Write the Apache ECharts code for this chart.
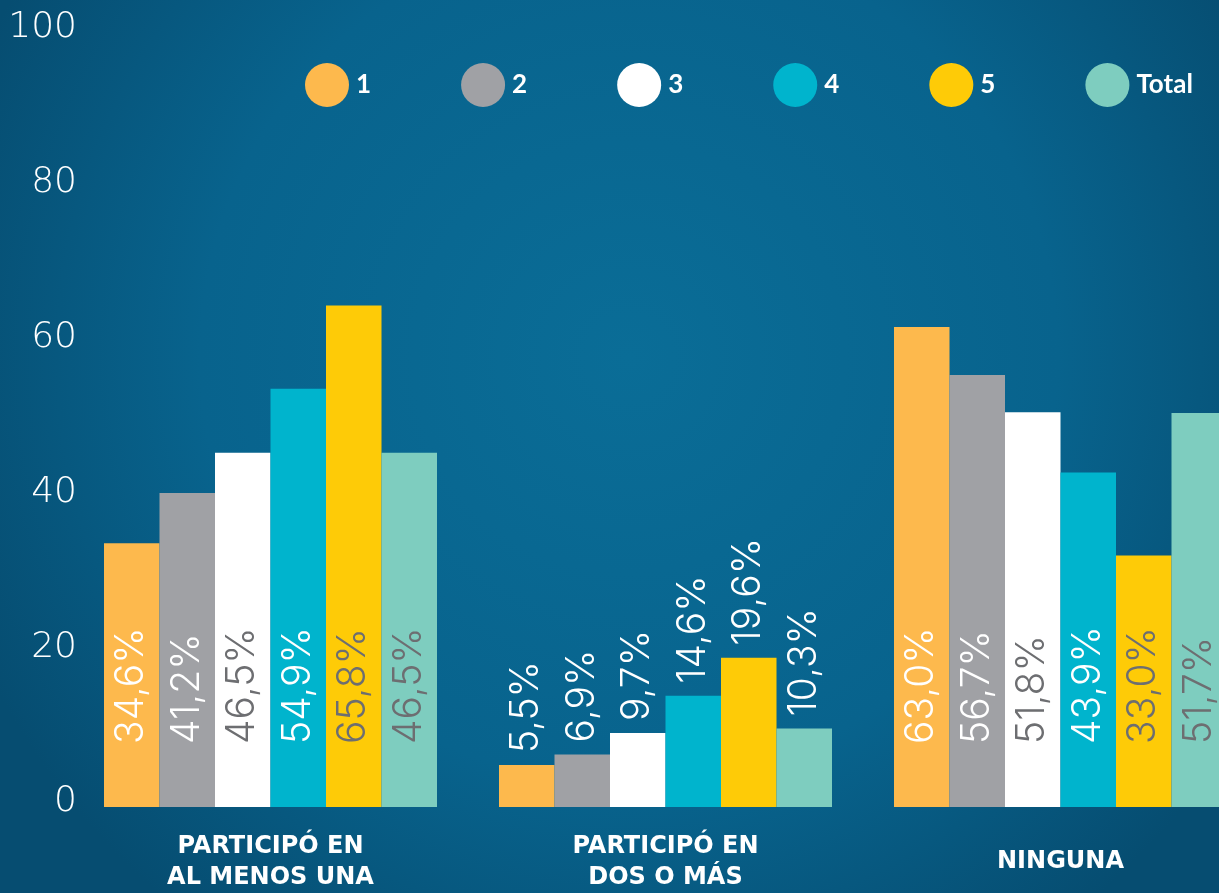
<!DOCTYPE html>
<html>
<head>
<meta charset="utf-8">
<style>
  html, body { margin: 0; padding: 0; overflow: hidden; width: 1219px; height: 893px; background: #075a82; }
  #chart { width: 1258px; height: 893px; }
</style>
<script src="https://cdn.jsdelivr.net/npm/echarts@6/dist/echarts.min.js"></script>
</head>
<body>
<div id="chart"></div>
<script>
const categories = ['PARTICIPÓ EN\nAL MENOS UNA', 'PARTICIPÓ EN\nDOS O MÁS', 'NINGUNA'];
const seriesNames = ['1', '2', '3', '4', '5', 'Total'];
const values1 = [34.6, 5.5, 63.0];
const values2 = [41.2, 6.9, 56.7];
const values3 = [46.5, 9.7, 51.8];
const values4 = [54.9, 14.6, 43.9];
const values5 = [65.8, 19.6, 33.0];
const valuesTotal = [46.5, 10.3, 51.7];
const yTicks = [0, 20, 40, 60, 80, 100];

const allValues = [values1, values2, values3, values4, values5, valuesTotal];
const barColors = ['#FDB94D', '#A0A1A5', '#FFFFFF', '#00B4CD', '#FECB07', '#7ECDBF'];
const labelColors = ['#FFFFFF', '#FFFFFF', '#6D6E71', '#FFFFFF', '#6D6E71', '#6D6E71'];
const outsideCategory = 1;

const fmt = p => p.value.toFixed(1).replace('.', ',') + '%';
const thinFont = 'Inter';

const chart = echarts.init(document.getElementById('chart'), null, { renderer: 'canvas' });

const series = seriesNames.map((name, si) => ({
  name: name,
  type: 'bar',
  xAxisIndex: 0,
  yAxisIndex: 0,
  barWidth: 55.5,
  barGap: '0%',
  itemStyle: { color: barColors[si] },
  label: {
    show: true,
    position: 'insideBottom',
    distance: 63,
    rotate: 90,
    align: 'left',
    verticalAlign: 'middle',
    color: labelColors[si],
    fontFamily: thinFont,
    fontWeight: 300,
    fontSize: 39,
    formatter: fmt
  },
  data: allValues[si].map((v, ci) => ci === outsideCategory
    ? { value: v, label: { position: 'top', distance: 12, color: '#FFFFFF' } }
    : v)
}));

chart.setOption({
  animation: false,
  backgroundColor: {
    type: 'radial', x: 0.5, y: 0.4, r: 0.8,
    colorStops: [
      { offset: 0, color: '#0A6D97' },
      { offset: 0.6, color: '#08638D' },
      { offset: 1, color: '#064D71' }
    ]
  },
  legend: {
    data: seriesNames,
    left: 300,
    top: 58,
    icon: 'circle',
    itemWidth: 44,
    itemHeight: 44,
    itemGap: 90,
    textStyle: { color: '#FFFFFF', fontSize: 26, fontWeight: 'bold', fontFamily: 'Lato', padding: [0, 0, 0, 2] }
  },
  grid: [
    { left: 73, right: 0, top: 45, bottom: 86 },
    { left: 80, right: 1100, top: 28, bottom: 91 }
  ],
  xAxis: [
    {
      type: 'category',
      gridIndex: 0,
      data: categories,
      axisLine: { show: false },
      axisTick: { show: false },
      axisLabel: {
        color: '#FFFFFF',
        fontFamily: 'DejaVu Sans',
        fontWeight: 'bold',
        fontSize: 24,
        lineHeight: 31,
        verticalAlign: 'middle',
        margin: 55
      }
    },
    { type: 'category', gridIndex: 1, data: [''], show: false }
  ],
  yAxis: [
    {
      type: 'value', gridIndex: 0, min: 0, max: 100, interval: 20,
      show: false, splitLine: { show: false }
    },
    {
      type: 'value', gridIndex: 1,
      min: yTicks[0], max: yTicks[yTicks.length - 1], interval: yTicks[1] - yTicks[0],
      axisLine: { show: false },
      axisTick: { show: false },
      splitLine: { show: false },
      axisLabel: {
        color: '#FFFFFF',
        fontFamily: 'DejaVu Sans',
        fontWeight: 200,
        fontSize: 36,
        margin: 3,
        align: 'right'
      }
    }
  ],
  series: series
});
</script>
</body>
</html>
